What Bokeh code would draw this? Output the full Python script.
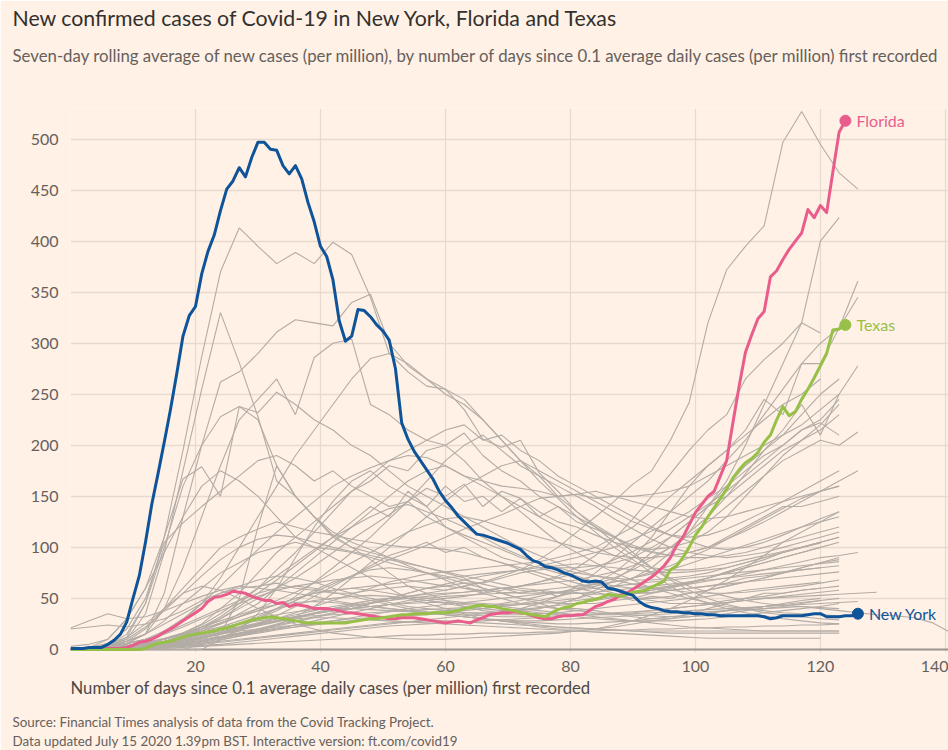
from bokeh.plotting import figure
from bokeh.models import Range1d, FixedTicker, Title, Span, Label
from bokeh.embed import file_html
from bokeh.resources import INLINE

# Seven-day rolling average of new cases per million, indexed by days since 0.1/million
new_york = [1, 1, 1, 2, 2, 2, 5, 9, 15, 27, 50, 72, 105, 142, 172, 203, 235, 270, 307, 327,
            336, 368, 390, 406, 430, 451, 459, 472, 463, 482, 497, 497, 490, 489, 474, 466, 474, 461, 438, 419,
            395, 385, 362, 322, 302, 307, 333, 332, 326, 318, 312, 303, 275, 222, 206, 194, 185, 176, 167, 155,
            146, 139, 131, 125, 119, 113, 112, 110, 108, 106, 104, 101, 98, 92, 87, 85, 81, 80, 78, 75,
            73, 70, 67, 66, 67, 66, 60, 59, 57, 55, 53, 47, 43, 41, 40, 38, 37, 37, 36, 36,
            35, 35, 34, 34, 33, 33, 33, 33, 33, 33, 33, 32, 30, 31, 33, 33, 33, 33, 34, 35,
            35, 32, 32, 32, 33, 33, 35]

florida = [0, 0, 0, 0, 0, 0, 1, 1, 1, 2, 4, 7, 8, 10, 13, 17, 20, 24, 28, 32,
           36, 40, 47, 51, 52, 54, 57, 56, 55, 52, 50, 48, 48, 45, 46, 42, 44, 43, 42, 40,
           40, 40, 39, 38, 36, 36, 35, 34, 33, 32, 31, 30, 30, 31, 31, 31, 30, 29, 28, 27,
           26, 27, 28, 27, 26, 29, 31, 34, 35, 36, 36, 37, 36, 35, 33, 31, 30, 30, 32, 33,
           33, 34, 34, 38, 42, 44, 47, 49, 53, 55, 59, 63, 67, 71, 76, 82, 90, 102, 110, 122,
           134, 142, 150, 155, 170, 185, 222, 258, 291, 308, 324, 331, 365, 371, 382, 392, 400, 408, 431, 423,
           435, 428, 468, 507, 518]

texas = [0, 0, 0, 0, 0, 0, 0, 0, 0, 0, 0, 0, 1, 4, 6, 7, 8, 10, 12, 14,
         15, 16, 17, 18, 20, 21, 23, 25, 27, 29, 30, 31, 32, 31, 30, 29, 28, 27, 26, 26,
         26, 26, 26, 26, 26, 27, 28, 29, 30, 30, 31, 32, 33, 34, 34, 35, 35, 35, 36, 36,
         36, 37, 38, 40, 41, 43, 43, 42, 42, 40, 39, 38, 36, 35, 34, 33, 32, 36, 39, 41,
         42, 45, 46, 48, 49, 51, 54, 53, 52, 54, 56, 57, 58, 61, 64, 67, 78, 82, 90, 100,
         112, 120, 130, 139, 148, 157, 168, 176, 183, 187, 193, 203, 210, 225, 238, 229, 233, 245, 255, 266,
         278, 290, 313, 314, 318]

# Remaining states, sampled every third day from day 0
OTHER_STEP = 3
other_states = [
    [0, 1, 3, 12, 45, 110, 195, 287, 370, 413, 395, 378, 389, 378, 399, 387, 345, 290, 272, 258, 255, 235,
     206, 198, 205, 173, 155, 135, 122, 111, 95, 80, 68, 58, 50, 44, 40, 36, 34, 32, 30, 29],
    [0, 0, 2, 6, 15, 55, 130, 200, 262, 272, 290, 311, 323, 320, 317, 340, 348, 300, 278, 265, 255, 245,
     225, 205, 185, 165, 148, 130, 115, 100, 88, 75, 62, 52, 45, 40, 36, 33, 30, 28, 26, 25],
    [0, 0, 3, 10, 35, 95, 175, 255, 330, 281, 228, 165, 150, 130, 112, 100, 88, 75, 62, 55, 48, 42,
     38, 36, 40, 45, 52, 62, 75, 90, 105, 120, 135, 150, 165, 185, 205, 230, 255, 280, 280, 315, 361],
    [0, 0, 2, 6, 15, 40, 80, 130, 180, 225, 245, 265, 230, 286, 300, 304, 240, 230, 215, 205, 200, 185,
     165, 150, 135, 120, 105, 95, 85, 75, 68, 60, 55, 50, 46, 42, 40, 38, 36, 35, 34, 33],
    [0, 1, 4, 15, 45, 100, 160, 200, 228, 238, 225, 180, 150, 130, 115, 105, 98, 90, 82, 75, 68, 60,
     55, 50, 45, 42, 40, 38, 36, 35, 34, 33, 32, 32, 33, 35, 38, 40, 42, 45, 48],
    [0, 0, 1, 3, 8, 15, 28, 45, 70, 100, 130, 160, 190, 215, 240, 265, 285, 290, 280, 265, 250, 240,
     225, 205, 185, 170, 150, 135, 120, 105, 92, 80, 70, 62, 56, 52, 48, 45, 43, 42, 41, 40],
    [3, 5, 10, 30, 60, 110, 167, 179, 150, 238, 232, 252, 240, 225, 215, 200, 190, 175, 160, 150, 140, 130,
     120, 110, 100, 92, 85, 78, 72, 68, 64, 60, 58, 56, 55, 55, 56, 58, 60, 62, 65, 68],
    [0, 2, 6, 20, 50, 105, 124, 140, 155, 170, 185, 190, 180, 165, 175, 160, 150, 140, 145, 130, 120, 112,
     105, 98, 90, 85, 80, 75, 72, 70, 68, 68, 70, 72, 75, 80, 85, 90, 95, 100, 105],
    [0, 0, 1, 3, 6, 10, 16, 25, 40, 55, 75, 95, 110, 125, 140, 155, 165, 180, 175, 195, 200, 212,
     190, 175, 165, 150, 140, 130, 120, 110, 100, 95, 92, 95, 100, 110, 120, 130, 140, 140, 145, 150],
    [0, 0, 1, 2, 4, 8, 12, 18, 25, 35, 45, 60, 75, 90, 105, 120, 135, 150, 165, 175, 180, 170,
     165, 160, 158, 155, 150, 152, 148, 150, 150, 152, 155, 160, 170, 180, 190, 200, 210, 220, 235, 250],
    [0, 0, 1, 3, 6, 10, 15, 22, 30, 40, 50, 60, 70, 82, 95, 108, 120, 132, 145, 158, 150, 162,
     140, 155, 148, 135, 125, 120, 112, 105, 100, 98, 100, 105, 115, 130, 150, 170, 190, 205, 220, 240],
    [0, 0, 1, 2, 5, 10, 16, 24, 35, 48, 60, 72, 85, 98, 110, 120, 130, 138, 142, 135, 128, 120,
     110, 100, 92, 85, 78, 72, 66, 62, 60, 60, 62, 65, 70, 76, 82, 88, 95, 100, 105, 110],
    [0, 0, 0, 1, 3, 6, 10, 15, 20, 26, 32, 40, 48, 56, 64, 72, 80, 88, 95, 102, 110, 118,
     125, 132, 140, 148, 150, 152, 155, 150, 145, 140, 135, 130, 128, 130, 135, 140, 145, 150, 155, 160],
    [0, 0, 1, 2, 4, 7, 12, 18, 25, 32, 40, 48, 56, 65, 75, 85, 95, 105, 115, 122, 128, 130,
     126, 120, 115, 110, 105, 100, 95, 92, 90, 90, 92, 95, 100, 108, 116, 125, 135, 145, 155, 165, 175],
    [0, 1, 3, 8, 20, 40, 60, 80, 100, 110, 118, 125, 120, 115, 112, 108, 105, 102, 100, 100, 98, 95,
     90, 85, 80, 75, 70, 65, 60, 55, 50, 48, 45, 45, 45, 48, 50, 52, 55, 58, 60],
    [0, 2, 10, 30, 60, 95, 130, 160, 175, 165, 150, 130, 110, 100, 90, 80, 70, 60, 50, 45, 40, 35,
     30, 28, 25, 22, 20, 20, 20, 22, 25, 28, 30, 35, 40, 45, 50, 55, 55, 58, 60, 62],
    [0, 0, 0, 0, 0, 0, 0, 5, 15, 50, 120, 180, 150, 130, 110, 100, 95, 90, 85, 80, 75, 70,
     60, 55, 50, 45, 40, 40, 38, 35, 32, 30, 30, 32, 35, 38, 40, 42, 45, 48, 50],
    [0, 0, 0, 0, 0, 0, 0, 0, 10, 20, 35, 60, 90, 120, 145, 165, 175, 160, 150, 140, 120, 110,
     100, 90, 85, 80, 75, 70, 65, 60, 55, 55, 58, 60, 62, 65, 70, 72, 75, 78, 80],
    [0, 1, 3, 8, 15, 28, 45, 60, 75, 85, 95, 100, 105, 100, 98, 95, 90, 85, 80, 75, 70, 65,
     60, 55, 50, 48, 45, 45, 45, 48, 50, 55, 60, 65, 70, 75, 80, 85, 90, 95, 100],
    [0, 1, 3, 8, 15, 25, 35, 45, 55, 60, 62, 65, 60, 58, 55, 55, 58, 60, 62, 60, 62, 65,
     65, 70, 75, 78, 80, 80, 82, 85, 90, 100, 110, 125, 140, 160, 180, 195, 210, 230, 250, 265],
    [0, 0, 0, 1, 2, 4, 7, 11, 16, 22, 30, 40, 52, 66, 80, 95, 110, 128, 145, 165, 185, 200,
     210, 195, 180, 170, 160, 150, 140, 128, 118, 108, 100, 95, 92, 90, 92, 95, 100, 105, 110, 115],
    [0, 0, 1, 2, 4, 8, 14, 22, 32, 45, 60, 78, 95, 115, 135, 155, 170, 185, 195, 205, 215, 220,
     205, 210, 195, 185, 170, 160, 150, 140, 130, 120, 112, 106, 100, 98, 100, 105, 112, 120, 128, 135],
    [0, 0, 0, 0, 1, 2, 4, 6, 9, 13, 18, 24, 32, 42, 55, 70, 85, 100, 115, 130, 145, 160,
     170, 180, 185, 175, 165, 155, 145, 135, 125, 118, 112, 110, 112, 118, 126, 135, 145, 155, 165, 175],
    [0, 1, 2, 5, 10, 18, 30, 45, 62, 80, 98, 115, 130, 145, 160, 170, 178, 185, 190, 188, 180, 170,
     160, 150, 140, 130, 120, 110, 100, 92, 85, 80, 78, 78, 80, 84, 88, 92, 96, 100, 104],
    [0, 0, 1, 2, 4, 7, 12, 20, 30, 42, 55, 68, 82, 96, 110, 125, 140, 130, 155, 140, 160, 145,
     150, 135, 148, 130, 140, 125, 118, 110, 102, 96, 92, 90, 90, 92, 95, 100, 105, 110, 115, 120],
    [0, 1, 2, 3, 5, 8, 12, 15, 20, 22, 25, 28, 32, 35, 38, 42, 45, 48, 52, 55, 58, 62,
     66, 72, 78, 88, 100, 115, 130, 145, 162, 175, 205, 242, 320, 372, 395, 415, 497, 527, 495, 467, 451],
    [0, 0, 1, 2, 4, 6, 9, 12, 15, 18, 20, 22, 24, 25, 26, 28, 30, 32, 33, 35, 36, 38,
     40, 42, 44, 46, 48, 50, 55, 62, 70, 80, 95, 115, 140, 165, 200, 240, 280, 320, 400, 423],
    [0, 0, 1, 3, 6, 10, 15, 20, 26, 32, 38, 44, 50, 55, 58, 60, 58, 55, 52, 50, 48, 46,
     45, 44, 45, 48, 52, 58, 65, 75, 90, 110, 135, 160, 180, 195, 215, 245, 230, 280, 300, 315, 345],
    [0, 0, 1, 2, 4, 7, 10, 14, 18, 22, 26, 30, 34, 38, 42, 45, 48, 50, 52, 54, 55, 56,
     58, 60, 62, 66, 72, 80, 92, 108, 128, 150, 172, 195, 215, 230, 265, 284, 300, 320, 310],
    [0, 0, 0, 1, 2, 4, 6, 9, 12, 15, 18, 20, 22, 24, 26, 28, 30, 32, 34, 36, 38, 40,
     42, 45, 48, 52, 56, 60, 64, 70, 78, 88, 100, 115, 130, 150, 172, 195, 215, 240, 210, 250, 278],
    [0, 0, 1, 2, 3, 5, 8, 11, 15, 19, 23, 27, 31, 35, 38, 40, 42, 44, 46, 48, 50, 52,
     55, 58, 62, 66, 70, 75, 80, 88, 96, 106, 118, 130, 142, 155, 170, 185, 200, 215, 225, 245],
    [0, 0, 1, 2, 4, 6, 9, 12, 16, 20, 24, 28, 32, 36, 40, 43, 46, 48, 50, 52, 54, 56,
     58, 60, 62, 64, 66, 68, 72, 76, 82, 90, 100, 112, 125, 140, 155, 170, 185, 195, 205, 200, 213],
    [0, 0, 0, 1, 2, 3, 5, 8, 12, 16, 20, 25, 30, 35, 40, 44, 48, 50, 50, 48, 45, 42,
     40, 38, 38, 40, 44, 50, 58, 68, 80, 95, 110, 125, 140, 150, 165, 180, 195, 205, 215, 230],
    [0, 0, 1, 2, 4, 6, 9, 12, 16, 20, 25, 30, 36, 42, 48, 54, 60, 66, 70, 74, 76, 78,
     80, 82, 84, 86, 90, 95, 100, 110, 120, 135, 150, 165, 180, 195, 210, 225, 240, 250, 265],
    [0, 0, 1, 2, 3, 5, 7, 10, 13, 16, 20, 24, 28, 32, 36, 40, 45, 50, 55, 60, 64, 68,
     72, 75, 78, 82, 86, 90, 95, 100, 108, 116, 125, 135, 148, 160, 175, 190, 200, 215, 222, 210],
    [0, 0, 0, 1, 2, 3, 5, 7, 10, 13, 16, 19, 22, 25, 28, 31, 34, 37, 40, 42, 44, 46,
     48, 50, 52, 54, 56, 58, 62, 66, 70, 76, 82, 90, 98, 108, 118, 128, 138, 148, 155, 160],
    [0, 0, 1, 2, 3, 4, 6, 8, 11, 14, 17, 20, 24, 28, 32, 36, 40, 44, 48, 50, 52, 53,
     54, 55, 56, 58, 60, 62, 64, 66, 70, 74, 78, 84, 90, 96, 102, 108, 114, 120, 125, 130],
    [0, 0, 0, 1, 1, 2, 3, 5, 7, 9, 11, 13, 15, 17, 19, 21, 23, 25, 27, 29, 31, 33,
     35, 37, 39, 41, 43, 45, 48, 51, 54, 58, 62, 66, 70, 75, 80, 85, 90, 95, 100, 105],
    [0, 0, 1, 3, 6, 10, 14, 18, 22, 25, 28, 30, 32, 33, 34, 35, 36, 37, 38, 39, 40, 41,
     42, 43, 44, 45, 46, 48, 50, 52, 55, 58, 61, 64, 67, 70, 74, 78, 82, 86, 90, 92, 95],
    [21, 28, 35, 30, 32, 38, 45, 52, 58, 62, 60, 58, 55, 52, 48, 45, 42, 40, 38, 36, 34, 32,
     30, 28, 27, 26, 25, 25, 26, 27, 28, 30, 32, 34, 36, 38, 40, 42, 44, 46, 48, 50],
    [20, 22, 24, 22, 25, 30, 38, 48, 55, 62, 68, 72, 70, 66, 60, 55, 50, 46, 42, 40, 38, 36,
     35, 34, 34, 35, 36, 38, 40, 42, 44, 46, 48, 50, 52, 55, 58, 60, 62, 64, 66],
    [0, 1, 3, 6, 10, 15, 22, 30, 38, 45, 52, 58, 62, 65, 68, 70, 72, 70, 68, 65, 62, 60,
     58, 56, 55, 55, 56, 58, 60, 62, 64, 66, 68, 70, 72, 74, 76, 78, 80, 82, 84, 86],
    [0, 0, 1, 3, 6, 10, 15, 20, 26, 32, 38, 44, 50, 55, 58, 60, 62, 64, 66, 68, 70, 72,
     74, 76, 78, 80, 82, 84, 82, 80, 78, 76, 75, 76, 78, 80, 85, 90, 95, 100, 105, 110],
    [0, 0, 1, 2, 4, 7, 11, 16, 22, 28, 34, 40, 44, 48, 50, 52, 53, 52, 50, 48, 46, 44,
     42, 40, 38, 36, 34, 32, 30, 29, 28, 28, 28, 29, 30, 32, 34, 36, 38, 40, 42, 45],
    [0, 0, 0, 1, 2, 4, 6, 9, 12, 15, 18, 21, 24, 26, 28, 30, 31, 32, 33, 34, 35, 36,
     36, 36, 36, 35, 35, 34, 34, 34, 35, 36, 37, 38, 39, 40, 41, 42, 43, 44, 45, 46, 47],
    [0, 0, 1, 2, 3, 5, 8, 12, 16, 20, 24, 28, 32, 35, 38, 40, 42, 44, 45, 46, 46, 45,
     44, 42, 40, 38, 36, 34, 32, 30, 28, 26, 24, 22, 21, 20, 19, 18, 18, 18, 18, 18],
    [0, 0, 0, 1, 2, 3, 4, 6, 8, 10, 12, 14, 16, 18, 20, 22, 24, 26, 27, 28, 28, 27,
     26, 25, 24, 23, 22, 21, 20, 19, 18, 17, 16, 16, 16, 16, 16, 16, 16, 16, 16, 16],
    [0, 0, 1, 2, 4, 6, 9, 13, 17, 21, 25, 28, 30, 31, 31, 30, 29, 28, 27, 26, 25, 24,
     23, 22, 21, 20, 19, 18, 17, 16, 15, 14, 13, 12, 11, 11, 11, 11, 11, 11, 11],
    [0, 1, 2, 4, 7, 11, 16, 22, 28, 34, 40, 44, 46, 47, 46, 44, 42, 40, 38, 36, 34, 32,
     30, 28, 26, 24, 22, 21, 20, 19, 18, 18, 18, 18, 18, 18, 18, 18, 18, 18, 18, 18],
    [0, 0, 0, 1, 2, 4, 7, 11, 16, 22, 30, 38, 48, 58, 66, 72, 78, 80, 78, 75, 72, 68,
     64, 60, 58, 56, 55, 55, 56, 58, 60, 62, 64, 66, 68, 70, 72, 74, 76, 78, 80, 82],
    [0, 0, 0, 1, 2, 3, 5, 8, 12, 18, 25, 33, 42, 52, 62, 72, 82, 92, 98, 105, 95, 100,
     90, 85, 78, 72, 66, 60, 56, 52, 50, 50, 52, 55, 58, 62, 66, 70, 75, 80, 85, 90],
    [0, 2, 5, 12, 25, 40, 55, 62, 58, 50, 40, 32, 25, 20, 16, 14, 12, 11, 10, 10, 10, 11,
     12, 13, 14, 15, 16, 18, 20, 24, 28, 34, 40, 48, 58, 68, 80, 92, 105, 115, 125, 135],
    [0, 1, 4, 10, 22, 38, 55, 72, 88, 100, 108, 112, 110, 105, 100, 96, 92, 88, 84, 80, 76, 72,
     68, 64, 60, 58, 56, 55, 54, 54, 55, 56, 58, 60, 62, 64, 66, 68, 70, 72, 74, 76],
    [0, 0, 0, 1, 2, 3, 5, 8, 11, 15, 19, 23, 27, 31, 35, 40, 45, 50, 55, 60, 58, 62,
     56, 60, 55, 58, 52, 56, 50, 54, 48, 52, 50, 55, 58, 62, 66, 70, 75, 80, 85, 88],
    [0, 0, 0, 0, 1, 1, 2, 3, 4, 5, 6, 7, 8, 9, 10, 11, 12, 13, 14, 14, 15, 15,
     16, 16, 16, 17, 17, 18, 18, 19, 19, 20, 20, 21, 21, 22, 22, 23, 23, 24, 24, 25],
    [0, 0, 0, 1, 1, 2, 3, 4, 5, 7, 9, 11, 13, 15, 17, 19, 21, 23, 24, 25, 26, 27,
     28, 29, 30, 31, 32, 33, 34, 35, 36, 38, 40, 42, 44, 46, 48, 50, 52, 54, 56, 58],
    [0, 0, 1, 2, 4, 7, 11, 15, 20, 25, 30, 34, 37, 39, 40, 40, 39, 38, 37, 36, 35, 34,
     33, 32, 32, 32, 33, 34, 35, 36, 37, 38, 40, 42, 44, 46, 48, 50, 51, 52, 53, 54, 55, 56],
    [0, 1, 3, 6, 10, 16, 24, 32, 40, 48, 55, 60, 62, 60, 56, 52, 48, 44, 40, 37, 34, 32,
     30, 29, 28, 28, 29, 30, 31, 32, 33, 34, 35, 36, 37, 38, 39, 40, 41, 42, 40, 38, 36,
     34, 33, 31, 26, 16],
]

x_ticks = [20, 40, 60, 80, 100, 120, 140]
y_ticks = [0, 50, 100, 150, 200, 250, 300, 350, 400, 450, 500]

BG = "#fff1e5"
GRID = "#e7dace"
GREY = "#b3aca6"
NY_BLUE = "#0f5499"
FL_PINK = "#e95d8c"
TX_GREEN = "#96c048"
TEXT_DARK = "#33302e"
TEXT_MID = "#66605c"
FONT = "Lato"

p = figure(width=948, height=750, x_range=Range1d(0, 140.5), y_range=Range1d(-3, 530),
           output_backend="svg", toolbar_location=None, title=None,
           min_border_left=70, min_border_right=0, min_border_top=0, min_border_bottom=0)
p.background_fill_color = BG
p.border_fill_color = BG
p.outline_line_color = None

# Axes
for ax in (p.xaxis[0], p.yaxis[0]):
    ax.axis_line_color = None
    ax.major_tick_line_color = None
    ax.minor_tick_line_color = None
    ax.major_label_text_font = FONT
    ax.major_label_text_font_size = "16px"
    ax.major_label_text_color = TEXT_MID
p.xaxis.ticker = FixedTicker(ticks=x_ticks)
p.yaxis.ticker = FixedTicker(ticks=y_ticks)
p.xaxis.major_label_standoff = 2
p.yaxis.major_label_standoff = 6

p.xgrid.ticker = FixedTicker(ticks=x_ticks)
p.ygrid.ticker = FixedTicker(ticks=y_ticks[1:])
p.grid.grid_line_color = GRID
p.grid.grid_line_width = 1.3

baseline = Span(location=0, dimension="width", line_color="#9a938e", line_width=2, level="underlay")
p.add_layout(baseline)

# Other states in grey
xs = [[i * OTHER_STEP for i in range(len(s))] for s in other_states]
p.multi_line(xs=xs, ys=other_states, line_color=GREY, line_width=1.1)

# Highlighted states
series = [(florida, FL_PINK, "Florida"), (texas, TX_GREEN, "Texas"), (new_york, NY_BLUE, "New York")]
for vals, col, name in series:
    days = list(range(len(vals)))
    p.line(days, vals, line_color=col, line_width=3, line_join="round")
for vals, col, name in series:
    last_x, last_y = len(vals) - 1, vals[-1]
    p.scatter([last_x], [last_y], size=11, fill_color=col, line_color=col)
    p.add_layout(Label(x=last_x, y=last_y, text=name, x_offset=11, text_baseline="middle",
                       text_font=FONT, text_font_size="16px", text_color=col))


def add_title(text, side, size, color, standoff, offset=-58, va="middle"):
    p.add_layout(Title(text=text, text_font=FONT, text_font_size=size, text_color=color,
                       text_font_style="normal", align="left", offset=offset,
                       standoff=standoff, vertical_align=va), side)


# Header (added innermost first)
add_title(" ", "above", "1px", BG, 30)
add_title("Seven-day rolling average of new cases (per million), by number of days since 0.1 average "
          "daily cases (per million) first recorded", "above", "16.8px", TEXT_MID, 17)
add_title("New confirmed cases of Covid-19 in New York, Florida and Texas", "above", "21.3px", TEXT_DARK, 7)

# Footer
add_title("Number of days since 0.1 average daily cases (per million) first recorded", "below",
          "16.7px", "#4d4845", 4, offset=0)
add_title(" ", "below", "1px", BG, 9)
add_title("Source: Financial Times analysis of data from the Covid Tracking Project.", "below",
          "13.4px", TEXT_MID, 0)
add_title("Data updated July 15 2020 1.39pm BST. Interactive version: ft.com/covid19", "below",
          "13.4px", TEXT_MID, 2)

open("out.html", "w").write(file_html(p, INLINE))
